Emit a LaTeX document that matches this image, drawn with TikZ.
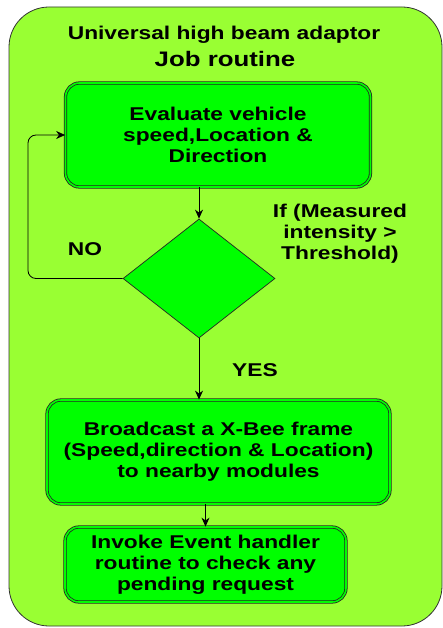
\documentclass[tikz,border=0pt]{standalone}
\usepackage{fontspec}
\setmainfont{Liberation Sans}[FakeStretch=1.23]
\usetikzlibrary{positioning,shapes.geometric,arrows.meta}
\tikzset{>={Stealth[length=9pt,width=8pt]}}
\definecolor{panelgreen}{RGB}{153,255,51}
\definecolor{boxgreen}{RGB}{0,255,0}
\tikzset{jobbox/.style={draw=black!85,double=boxgreen,double distance=1.6pt,line width=0.8pt,
  fill=boxgreen,rounded corners=14pt,align=center,inner sep=0pt,
  font=\fontsize{18.5}{21}\selectfont\bfseries}}
\tikzset{decision/.style={diamond,draw=black!85,line width=0.7pt,fill=boxgreen,inner sep=0pt}}
\tikzset{lbl/.style={align=center,font=\fontsize{18.5}{21}\selectfont\bfseries}}

\begin{document}
\begin{tikzpicture}[x=1pt,y=-1pt]
\useasboundingbox (0,0) rectangle (443,628);
\draw[fill=panelgreen,draw=black!80,line width=0.8pt,rounded corners=40pt] (9,7) rectangle (442,626);
\node[lbl] (title) at (224,35) {Universal high beam adaptor};
\node[lbl,font=\fontsize{21}{24}\selectfont\bfseries] (jobtitle) at (225,59) {Job routine};
\node[jobbox,minimum width=305pt,minimum height=104pt] (eval) at (218,135)
  {Evaluate vehicle\\speed,Location \&\\Direction};
\node[decision,minimum width=152pt,minimum height=119pt] (check) at (199,278.5) {};
\node[jobbox,minimum width=343pt,minimum height=104pt] (bcast) at (218.5,452)
  {Broadcast a X-Bee frame\\(Speed,direction \& Location)\\to nearby modules};
\node[jobbox,minimum width=281pt,minimum height=75pt] (invoke) at (205.5,564.5)
  {Invoke Event handler\\routine to check any\\pending request};
\node[lbl] (cond) at (340,234) {If (Measured\\intensity >\\Threshold)};
\node[lbl] (no) at (85,249) {NO};
\node[lbl] (yes) at (255,370) {YES};
\coordinate (loop) at (28,135);
\draw[->,line width=0.8pt] (check.north |- eval.south) -- (check.north);
\draw[->,line width=0.8pt] (check.south) -- (check.south |- bcast.north);
\draw[->,line width=0.8pt] (invoke.north |- bcast.south) -- (invoke.north);
\draw[->,line width=0.8pt,rounded corners=8pt] (check.west) -| (loop) -- (eval.west);
\end{tikzpicture}
\end{document}
